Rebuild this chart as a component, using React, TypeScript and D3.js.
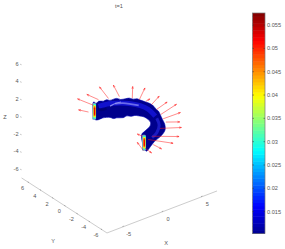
import * as d3 from "d3";

const W = 285;
const H = 249;

const titleText = "t=1";
const xTicks = [-5, 0, 5];
const yTicks = [6, 4, 2, 0, -2, -4, -6];
const zTicks = [6, 4, 2, 0, -2, -4, -6];
const limit = 7;
const colorTicks = [0.055, 0.05, 0.045, 0.04, 0.035, 0.03, 0.025, 0.02, 0.015];
const colorDomain = [0.0103, 0.0576];
const jetColors = ["#00008f", "#0000ff", "#00ffff", "#ffff00", "#ff0000", "#800000"];
const jetStops = [0, 0.125, 0.375, 0.625, 0.875, 1];

// tube silhouette (x, z at one y depth)
const outerX = [-3.55, -3.2, -2.9, -2.29, -1.9, -1.5, -0.6, -0.1, 0.5, 1.0, 1.51, 2.0, 2.4, 3.2, 3.9, 4.46, 4.7, 4.9, 5.22, 5.5, 5.55, 5.05, 4.2, 3.7, 3.15];
const outerZ = [3.32, 3.05, 3.18, 2.98, 3.0, 2.8, 2.72, 2.42, 2.3, 2.2, 1.91, 1.78, 1.5, 0.97, 0.45, -0.29, -0.55, -0.95, -1.68, -2.3, -3.0, -3.5, -3.85, -4.25, -4.6];
const innerX = [2.57, 3.1, 3.62, 3.7, 3.41, 2.9, 2.14, 1.7, 1.2, 0.7, 0.24, -0.6, -1.0, -1.44, -2.4, -2.9, -3.34];
const innerZ = [-2.52, -2.2, -1.91, -1.5, -1.08, -0.6, -0.21, -0.02, 0.05, 0.28, 0.23, 0.5, 0.55, 0.83, 1.1, 1.08, 1.23];

// lighter bands on the tube surface
const bandAX = [-2.9, -1.6, -0.2, 1.2, 2.4, 3.4, 4.3];
const bandAZ = [2.6, 2.45, 2.05, 1.5, 0.85, 0.1, -1.0];
const bandBX = [-0.8, 0.2, 1.2, 2.2];
const bandBZ = [2.2, 1.9, 1.45, 0.95];
const bandCX = [4.5, 4.8, 4.5, 3.9];
const bandCZ = [-1.3, -2.2, -2.95, -3.3];
const bandDX = [-1.44, -0.7, -0.05];
const bandDZ = [2.12, 2.2, 2.12];
const bandEX = [-3.0, -2.5, -1.9];
const bandEZ = [2.3, 2.05, 2.0];

// arrows: tail and tip
const tailX = [-3.55, -2.92, -4.19, -1.65, -0.26, 1.38, 2.27, 3.11, 3.83, 4.46, 5.01, 5.31, 5.65, 4.9, 3.9, 3.4, 4.04, 2.99, 2.78, 2.69];
const tailZ = [2.94, 3.37, 2.39, 3.07, 2.8, 2.07, 1.58, 1.11, 0.49, -0.29, -1.04, -1.64, -2.13, -2.6, -3.15, -3.35, -4.15, -4.18, -4.38, -2.75];
const tipX = [-5.58, -4.4, -5.45, -2.79, -1.02, 1.43, 2.99, 3.62, 4.8, 5.81, 7.0, 7.5, 7.42, 7.63, 7.33, 6.57, 5.1, 3.83, 2.02, 2.02];
const tipZ = [4.37, 4.47, 3.07, 4.78, 4.38, 3.38, 2.68, 1.21, 1.12, 0.1, -0.56, -1.68, -2.72, -3.43, -4.36, -4.87, -5.0, -5.03, -3.21, -2.26];

// end caps: x, z top, z bottom, and the values of the nested strips
const capX = [-3.47, 2.86];
const capTop = [3.18, -2.62];
const capBottom = [1.27, -4.44];
const capValues = [0.03, 0.04, 0.047, 0.052];

const tubeY = -0.35;
const tubeZShift = 0.48;

const ox = d3.scaleLinear([0, 1], [119.3, 119.3 + 7.86]);
const project = (x: number, y: number, z: number): [number, number] => [
  ox(x) - 6.1 * y,
  123.2 - 3 * x - 3.93 * y - 8.75 * z,
];
const onTube = (x: number, z: number) => project(x, tubeY, z + tubeZShift);

const jet = d3.scaleLinear<string>().domain(jetStops).range(jetColors).interpolate(d3.interpolateRgb);
const colorT = d3.scaleLinear(colorDomain, [0, 1]);
const colorY = d3.scaleLinear(colorDomain, [233.5, 13]);
const colorOf = (v: number) => jet(colorT(v));

const smooth = d3.line().curve(d3.curveCatmullRom);
const bands = d3.range(64);

const textStyle = { fontFamily: "Liberation Sans, Arial, sans-serif", fontSize: 5.6, fill: "#555" };

const arrowPath = (i: number) => {
  const a = onTube(tailX[i], tailZ[i]);
  const b = onTube(tipX[i], tipZ[i]);
  const ang = Math.atan2(b[1] - a[1], b[0] - a[0]);
  const h = 2.4;
  const l: [number, number] = [b[0] - h * Math.cos(ang - 0.3), b[1] - h * Math.sin(ang - 0.3)];
  const r: [number, number] = [b[0] - h * Math.cos(ang + 0.3), b[1] - h * Math.sin(ang + 0.3)];
  return `M${a}L${b}M${l}L${b}L${r}`;
};

export default function App() {
  const outline = [
    ...outerX.map((x, i) => onTube(x, outerZ[i])),
    ...innerX.map((x, i) => onTube(x, innerZ[i])),
  ];
  const band = (xs: number[], zs: number[]) => smooth(xs.map((x, i) => onTube(x, zs[i]))) ?? "";

  return (
    <svg width={W} height={H} style={{ position: "absolute", left: 0, top: 0, background: "#fff" }}>
      <text x={119} y={8} textAnchor="middle" {...textStyle}>{titleText}</text>

      {/* floor axes */}
      <g fill="none" stroke="#aaa" strokeWidth={0.6}>
        <path d={`M${project(-limit, limit, -limit)}L${project(-limit, -limit, -limit)}L${project(limit, -limit, -limit)}`} />
      </g>
      {xTicks.map(t => {
        const p = project(t, -limit, -limit);
        return (
          <g key={t}>
            <path d={`M${p}l0.8,-1.2`} stroke="#666" strokeWidth={0.5} />
            <text x={p[0] + 6} y={p[1] + 9} textAnchor="middle" {...textStyle}>{t}</text>
          </g>
        );
      })}
      {yTicks.map(t => {
        const p = project(-limit, t, -limit);
        return (
          <g key={t}>
            <path d={`M${p}l1.2,0.6`} stroke="#666" strokeWidth={0.5} />
            <text x={p[0] - 5} y={p[1] + 8} textAnchor="middle" {...textStyle}>{t}</text>
          </g>
        );
      })}
      {zTicks.map(t => {
        const p = project(-limit, limit, t);
        return (
          <g key={t}>
            <path d={`M${p[0] - 1.5},${p[1]}l1.5,0.6`} stroke="#888" strokeWidth={0.5} />
            <text x={p[0] - 3} y={p[1] + 1.5} textAnchor="end" {...textStyle}>{t}</text>
          </g>
        );
      })}
      <text x={53} y={243} textAnchor="middle" {...textStyle}>Y</text>
      <text x={166} y={245} textAnchor="middle" {...textStyle}>X</text>
      <text x={5} y={119} textAnchor="middle" {...textStyle}>Z</text>

      {/* tube */}
      <path d={d3.line().curve(d3.curveCatmullRomClosed)(outline) ?? ""} fill="#00008c" stroke="#0000b0" strokeWidth={0.6} />
      <path d={band(bandAX, bandAZ)} fill="none" stroke="#1414d8" strokeWidth={5} opacity={0.85} />
      <path d={band(bandBX, bandBZ)} fill="none" stroke="#7a7af0" strokeWidth={1.8} opacity={0.85} />
      <path d={band(bandCX, bandCZ)} fill="none" stroke="#2020d0" strokeWidth={3} opacity={0.8} />
      <path d={band(bandDX, bandDZ)} fill="none" stroke="#a0a0f8" strokeWidth={1.2} opacity={0.8} />
      <path d={band(bandEX, bandEZ)} fill="none" stroke="#000070" strokeWidth={2.5} opacity={0.8} />

      {/* end caps, drawn as nested strips */}
      {capX.map((x, c) => {
        const a = onTube(x, capTop[c]);
        const b = onTube(x, capBottom[c]);
        const h = Math.abs(b[1] - a[1]);
        return (
          <g key={c}>
            <rect x={a[0] - 1.9} y={a[1]} width={3.8} height={h} rx={1} fill="#7f9cc0" />
            {capValues.map((v, i) => (
              <rect
                key={i}
                x={a[0] - 1 + i * 0.25}
                y={a[1] + 1 + i * 1.2}
                width={2.8 - i * 0.5}
                height={h - 2 - i * 2.4}
                rx={0.7}
                fill={colorOf(v)}
              />
            ))}
          </g>
        );
      })}

      {/* arrows */}
      {tailX.map((_, i) => (
        <path key={i} d={arrowPath(i)} fill="none" stroke="#ff1a1a" strokeWidth={0.7} opacity={0.72} />
      ))}

      {/* colorbar */}
      {bands.map(i => {
        const step = (colorDomain[1] - colorDomain[0]) / bands.length;
        const v = colorDomain[0] + i * step;
        return (
          <rect
            key={i}
            x={252.5}
            y={colorY(v + step)}
            width={12.5}
            height={colorY(v) - colorY(v + step) + 0.5}
            fill={colorOf(v + step / 2)}
          />
        );
      })}
      <rect x={252.5} y={13} width={12.5} height={220.5} fill="none" stroke="#777" strokeWidth={0.7} />
      {colorTicks.map(t => (
        <g key={t}>
          <path d={`M252.5,${colorY(t)}h1.5M265,${colorY(t)}h-1.5`} stroke="#333" strokeWidth={0.5} />
          <text x={267} y={colorY(t) + 2} {...textStyle}>{t}</text>
        </g>
      ))}
    </svg>
  );
}
